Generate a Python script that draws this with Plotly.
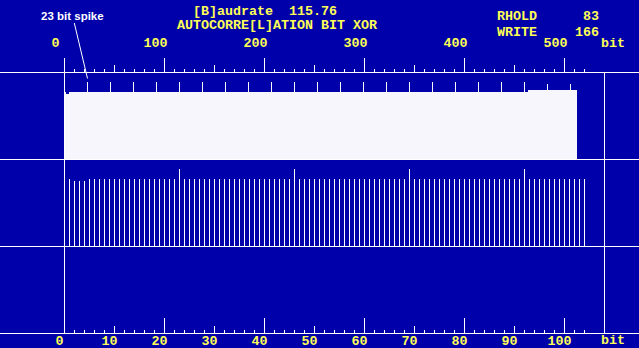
import plotly.graph_objects as go

# ---------------- data ----------------
# Autocorrelation of the bit stream vs. lag (fraction of matching bits).
# Baseline level per lag range, plus the 23-bit periodic spikes.
base_start = [0, 190, 464]
base_end = [189, 463, 512]
base_level = [0.776, 0.787, 0.799]
low_lags = [2, 3, 4]
low_vals = [0.764, 0.764, 0.764]
spike_lags = [23, 46, 69, 92, 115, 138, 161, 184, 207, 230, 253,
              276, 299, 322, 345, 368, 391, 414, 437, 460, 483, 506]
spike_vals = [0.902, 0.902, 0.896, 0.902, 0.902, 0.902, 0.902, 0.902, 0.891, 0.891, 0.891,
              0.891, 0.891, 0.891, 0.891, 0.891, 0.891, 0.891, 0.891, 0.891, 0.879, 0.868]

zoom_first_lag = 1
zoom_last_lag = 104

# axis ticks
top_major = [0, 100, 200, 300, 400, 500]
top_mid = [50, 150, 250, 350, 450]
top_minor = list(range(10, 530, 10))
bot_major = [0, 20, 40, 60, 80, 100]
bot_mid = [10, 30, 50, 70, 90]
bot_minor = list(range(2, 106, 2))

title_line1 = "[B]audrate\u00a0\u00a0115.76"
title_line2 = "AUTOCORRE[L]ATION\u00a0BIT\u00a0XOR"
rhold_label, rhold_value = "RHOLD", "83"
write_label, write_value = "WRITE", "166"
unit_text = "bit"
spike_text = "23 bit spike"

# ---------------- build series ----------------
lags = []
acf = []
for s, e, v in zip(base_start, base_end, base_level):
    for k in range(s, e + 1):
        lags.append(k)
        acf.append(v)
lookup = dict(zip(lags, range(len(lags))))
for k, v in zip(low_lags, low_vals):
    acf[lookup[k]] = v
for k, v in zip(spike_lags, spike_vals):
    acf[lookup[k]] = v

z_lags = lags[lookup[zoom_first_lag]:lookup[zoom_last_lag] + 1]
z_acf = acf[lookup[zoom_first_lag]:lookup[zoom_last_lag] + 1]

# ---------------- styling ----------------
W, H = 639, 348
BG = "#0000AA"
YEL = "#FFFF55"
WHITE = "#FFFFFF"
FILL = "#F6F6FC"
MONO = dict(family="Liberation Mono", size=13.33, color=YEL, weight="bold")


def py(p):
    return 1 - p / H


def pxp(p):
    return p / W


fig = go.Figure()
fig.add_trace(go.Bar(x=lags, y=acf, width=1, xaxis="x", yaxis="y",
                     marker=dict(color=FILL, line=dict(width=0)), hoverinfo="skip"))
fig.add_trace(go.Bar(x=z_lags, y=z_acf, width=0.2, xaxis="x2", yaxis="y2",
                     marker=dict(color=WHITE, line=dict(width=0)), hoverinfo="skip"))
fig.add_trace(go.Scatter(x=[], y=[], xaxis="x3", yaxis="y"))
fig.add_trace(go.Scatter(x=[], y=[], xaxis="x4", yaxis="y2"))

top_range = [-64.5, 574.5]
bot_range = [-64.5 / 5, (639 - 64.5) / 5]
tick_common = dict(showgrid=False, zeroline=False, showline=False, automargin=False,
                   tickcolor=WHITE, tickwidth=1, tickfont=MONO, fixedrange=True)

fig.update_layout(
    width=W, height=H, margin=dict(l=0, r=0, t=0, b=0, autoexpand=False),
    paper_bgcolor=BG, plot_bgcolor=BG, showlegend=False, bargap=0,
    xaxis=dict(range=top_range, anchor="free", position=py(72.5), side="top",
               ticks="outside", ticklen=15, tickvals=top_major,
               minor=dict(tickvals=top_minor, ticks="outside", ticklen=4,
                          tickcolor=WHITE, tickwidth=1),
               ticklabelshift=-9, ticklabelstandoff=5, **tick_common),
    xaxis3=dict(range=top_range, overlaying="x", anchor="free", position=py(72.5), side="top",
                ticks="outside", ticklen=8, tickvals=top_mid, showticklabels=False,
                **tick_common),
    xaxis2=dict(range=bot_range, anchor="free", position=py(333.5), side="bottom",
                ticks="inside", ticklen=16, tickvals=bot_major,
                minor=dict(tickvals=bot_minor, ticks="inside", ticklen=4,
                           tickcolor=WHITE, tickwidth=1),
                ticklabelshift=-5, ticklabelstandoff=-3, **tick_common),
    xaxis4=dict(range=bot_range, overlaying="x2", anchor="free", position=py(333.5), side="bottom",
                ticks="inside", ticklen=8, tickvals=bot_mid,
                ticklabelshift=-5, ticklabelstandoff=-3, **tick_common),
    yaxis=dict(domain=[py(159.5), py(72.5)], range=[0, 1], visible=False, fixedrange=True,
               automargin=False),
    yaxis2=dict(domain=[py(246.5), py(159.5)], range=[0, 1], visible=False, fixedrange=True,
                automargin=False),
)

# frame lines
shapes = []
for yy in [72.5, 159.5, 246.5, 333.5]:
    shapes.append(dict(type="line", xref="paper", yref="paper", x0=0, x1=1, y0=py(yy), y1=py(yy),
                       line=dict(color=WHITE, width=1)))
for xx in [64.5, 604.5]:
    shapes.append(dict(type="line", xref="paper", yref="paper", x0=pxp(xx), x1=pxp(xx),
                       y0=py(72.5), y1=py(333.5), line=dict(color=WHITE, width=1)))
fig.update_layout(shapes=shapes)

annots = []


def text_at(t, x, y, anchor="left", font=MONO):
    annots.append(dict(text=t, xref="paper", yref="paper", x=pxp(x), y=py(y),
                       xanchor=anchor, yanchor="middle", showarrow=False, font=font,
                       borderpad=0))


text_at(title_line1, 192, 12)
text_at(title_line2, 176, 26)
text_at(rhold_label, 496, 17)
text_at(rhold_value, 600, 17, anchor="right")
text_at(write_label, 496, 32)
text_at(write_value, 600, 32, anchor="right")
text_at(unit_text, 600, 43.5)
text_at(unit_text, 600, 340.5)

annots.append(dict(text=spike_text, x=spike_lags[0], y=81 / 87, xref="x", yref="y",
                   showarrow=True, arrowhead=0, arrowwidth=1, arrowcolor=WHITE,
                   ax=-15, ay=-63, standoff=0,
                   font=dict(family="Liberation Sans", size=11.5, color=WHITE, weight="bold")))
fig.update_layout(annotations=annots)

fig.write_html("out.html")
